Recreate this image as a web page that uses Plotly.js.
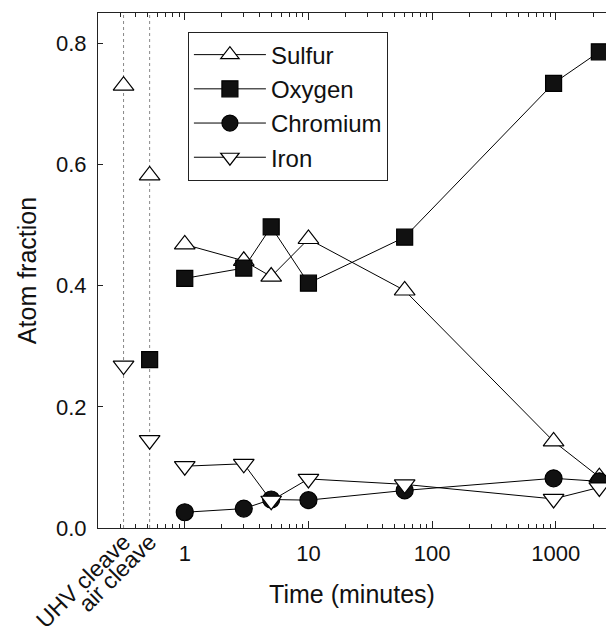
<!DOCTYPE html>
<html>
<head>
<meta charset="utf-8">
<script src="https://cdn.plot.ly/plotly-3.0.1.min.js"></script>
<style>html,body{margin:0;padding:0;background:#fff;}#chart{width:606px;height:641px;}</style>
</head>
<body>
<div id="chart"></div>
<script>
// Time series (minutes)
var times = [1, 3, 5, 10, 60, 960, 2250];
var sulfur = [0.468, 0.441, 0.415, 0.477, 0.392, 0.143, 0.084];
var oxygen = [0.412, 0.429, 0.497, 0.404, 0.480, 0.734, 0.786];
var chromium = [0.026, 0.032, 0.047, 0.046, 0.062, 0.082, 0.077];
var iron = [0.102, 0.106, 0.045, 0.081, 0.072, 0.048, 0.067];

// Cleave reference points (placed left of t = 1 on the log axis)
var cleaveLabels = ['UHV cleave', 'air cleave'];
var cleavePos = [0.32, 0.52];
var cleaveSulfur = [0.730, 0.582];
var cleaveOxygen = [null, 0.278];
var cleaveIron = [0.268, 0.145];

var majorTicks = [1, 10, 100, 1000];
var majorLabels = ['1', '10', '100', '1000'];

var FONT = 'Liberation Sans, Arial, sans-serif';
var minorVals = [];
for (var d = -1; d <= 3; d++) for (var m = 2; m <= 9; m++) minorVals.push(m * Math.pow(10, d));

function mk(sym, fill, size) {
  return {symbol: sym, size: size, color: fill, line: {color: '#000', width: 1.2}};
}
var seriesStyle = [
  {name: 'Sulfur', y: sulfur, cy: cleaveSulfur, m: mk('triangle-up', '#fff', 18)},
  {name: 'Oxygen', y: oxygen, cy: cleaveOxygen, m: mk('square', '#111', 16)},
  {name: 'Chromium', y: chromium, cy: null, m: mk('circle', '#111', 17)},
  {name: 'Iron', y: iron, cy: cleaveIron, m: mk('triangle-down', '#fff', 18)}
];

var traces = [];
// dotted guide lines at cleave positions
cleavePos.forEach(function (p) {
  traces.push({x: [p, p], y: [0, 0.85], xaxis: 'x2', mode: 'lines', showlegend: false, hoverinfo: 'skip',
    line: {color: '#888', width: 1, dash: 'dot'}});
});
seriesStyle.forEach(function (s) {
  traces.push({x: times, y: s.y, name: s.name, mode: 'lines+markers', cliponaxis: true,
    line: {color: '#000', width: 1}, marker: s.m});
});
seriesStyle.forEach(function (s) {
  if (!s.cy) return;
  traces.push({x: cleavePos, y: s.cy, xaxis: 'x2', mode: 'markers', showlegend: false, marker: s.m});
});

var xRange = [-0.7015, 3.406];
var layout = {
  width: 606, height: 641,
  margin: {l: 98, r: 0, t: 13, b: 113},
  paper_bgcolor: '#fff', plot_bgcolor: '#fff',
  font: {family: FONT, color: '#111', size: 22},
  showlegend: true,
  legend: {x: 0.177, y: 0.964, xanchor: 'left', yanchor: 'top', bgcolor: '#fff',
    bordercolor: '#222', borderwidth: 1, font: {family: FONT, size: 24, color: '#111'},
    itemwidth: 72, tracegroupgap: 0},
  xaxis: {type: 'log', range: xRange, tickmode: 'array', tickvals: majorTicks, ticktext: majorLabels,
    ticks: 'inside', ticklen: 7, tickcolor: '#222', showline: true, linecolor: '#222', linewidth: 1,
    mirror: 'allticks', showgrid: false, zeroline: false, tickfont: {size: 22}, ticklabelstandoff: 6,
    minor: {tickmode: 'array', tickvals: minorVals, ticks: 'inside', ticklen: 4, tickcolor: '#222', showgrid: false},
    title: {text: 'Time (minutes)', font: {size: 25}, standoff: 20}},
  xaxis2: {type: 'log', range: xRange, overlaying: 'x', anchor: 'y', side: 'bottom',
    tickmode: 'array', tickvals: cleavePos, ticktext: cleaveLabels, tickangle: -45,
    ticks: '', showline: false, showgrid: false, zeroline: false, tickfont: {size: 23},
    ticklabelstandoff: -5},
  yaxis: {range: [0, 0.85], tickmode: 'array', tickvals: [0, 0.2, 0.4, 0.6, 0.8],
    ticktext: ['0.0', '0.2', '0.4', '0.6', '0.8'], ticks: 'inside', ticklen: 5, tickcolor: '#222',
    showline: true, linecolor: '#222', linewidth: 1, mirror: true, showgrid: false, zeroline: false,
    tickfont: {size: 22}, ticklabelstandoff: 6,
    title: {text: 'Atom fraction', font: {size: 25}, standoff: 12}}
};

Plotly.newPlot('chart', traces, layout, {displayModeBar: false, staticPlot: true});
</script>
</body>
</html>
